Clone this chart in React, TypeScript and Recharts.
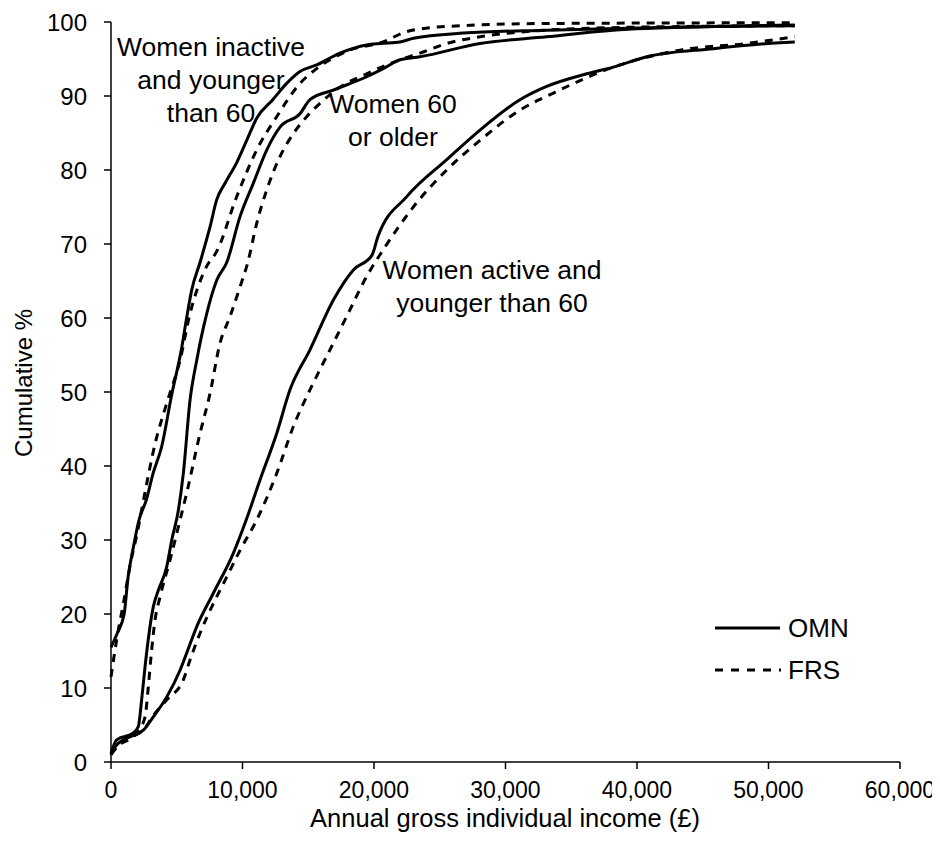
import { LineChart, Line, XAxis, YAxis, Label } from "recharts";

// cumulative % of women by annual gross individual income (£)
const inactiveOmn = [
  [0, 15.5], [500, 17.5], [1000, 20], [1300, 25], [1700, 29], [2100, 32.5], [2700, 35.5],
  [3200, 39], [3850, 42.6], [4600, 49.5], [5380, 56], [5750, 60], [6140, 63.8], [6770, 67.5],
  [7530, 72.3], [8040, 76], [8670, 78.2], [9560, 81], [10320, 84], [11080, 87], [12300, 89.5],
  [13360, 91.7], [14370, 93.3], [15640, 94.2], [17410, 95.8], [19440, 96.9], [20460, 97.1],
  [21980, 97.3], [23000, 97.8], [26800, 98.5], [33150, 98.9], [40000, 99.2], [46000, 99.4],
  [52000, 99.5],
];
const inactiveFrs = [
  [0, 11.5], [430, 16.5], [1000, 22], [1500, 27], [2000, 31], [2430, 35], [3350, 43],
  [4240, 48.5], [5250, 54.3], [6000, 60.5], [7280, 67], [8040, 69], [9560, 76.4], [11080, 82.7],
  [12600, 87.2], [14370, 91.7], [15640, 93.7], [18170, 96.2], [20700, 97.3], [22480, 98.7],
  [25550, 99.4], [33150, 99.8], [52000, 99.9],
];
const olderOmn = [
  [0, 1.2], [430, 3], [1670, 3.9], [2080, 4.8], [2330, 8.4], [2590, 12.9], [3220, 21],
  [3600, 23.2], [4240, 26.4], [4620, 30], [5120, 34], [5500, 39], [6010, 48.9], [6520, 54.3],
  [7280, 60.6], [8040, 65.1], [8800, 67.5], [9810, 73.7], [10820, 78.2], [11840, 82.7],
  [12850, 85.8], [14370, 87.6], [15130, 89.5], [16900, 90.8], [19440, 92.6], [20700, 93.7],
  [21980, 94.9], [23500, 95.3], [28060, 97.1], [33130, 98], [38170, 98.9], [45780, 99.4],
  [52000, 99.6],
];
const olderFrs = [
  [0, 1], [430, 2], [1950, 3.9], [2590, 6.1], [2840, 10.2], [3090, 15.1], [3350, 19.2],
  [3730, 22.3], [4490, 27.3], [5250, 32.7], [5750, 36.3], [6770, 44.4], [7530, 49.8],
  [8290, 56.6], [9050, 60.2], [9810, 64.2], [10400, 67.5], [11080, 72.8], [11840, 77.3],
  [12850, 81.8], [13860, 84.9], [14880, 87.2], [15890, 89], [17410, 91.2], [19440, 93],
  [21980, 94.9], [23500, 95.8], [25530, 97.1], [28060, 98], [33130, 98.9], [40000, 99.3],
  [52000, 99.5],
];
const activeOmn = [
  [0, 1], [430, 2.3], [1700, 3.6], [2460, 4.3], [3220, 6.1], [4240, 8.8], [5250, 12.4],
  [5750, 14.7], [6520, 18.3], [7780, 22.8], [9300, 28.2], [10320, 32.9], [11330, 38.1],
  [12600, 44.4], [13610, 50.3], [15130, 55.7], [16900, 62.4], [18430, 66.5], [19850, 68.5],
  [20300, 71], [22490, 76.4], [25530, 81.4], [28060, 85.4], [31100, 89.5], [33130, 91.3],
  [36170, 93], [38200, 93.9], [40740, 95.3], [45800, 96.4], [50870, 97.2], [52000, 97.3],
];
const activeFrs = [
  [0, 1], [430, 2], [1700, 3.5], [2460, 4.3], [3220, 6.3], [4240, 8.4], [5500, 11.1],
  [6010, 13.8], [6770, 17.4], [7780, 21.4], [8800, 25], [9810, 28.6], [11080, 32.7],
  [12600, 39], [13860, 45.3], [15380, 51.2], [16650, 55.7], [17920, 60.2], [19440, 65.6],
  [20840, 69.6], [22990, 75], [25530, 80], [28060, 84], [31100, 88.1], [33640, 90.4],
  [38200, 93.9], [43270, 96.2], [48330, 97.1], [52000, 98],
];

const xTicks = [0, 10000, 20000, 30000, 40000, 50000, 60000];
const yTicks = [0, 10, 20, 30, 40, 50, 60, 70, 80, 90, 100];

const toPoints = (arr: number[][]) => arr.map(([income, pct]) => ({ income, pct }));

const series = [
  { name: "inactiveOmn", data: inactiveOmn, dashed: false },
  { name: "inactiveFrs", data: inactiveFrs, dashed: true },
  { name: "olderOmn", data: olderOmn, dashed: false },
  { name: "olderFrs", data: olderFrs, dashed: true },
  { name: "activeOmn", data: activeOmn, dashed: false },
  { name: "activeFrs", data: activeFrs, dashed: true },
];

const font = "'Liberation Sans', Arial, sans-serif";

const legend = (
  <svg
    width={170}
    height={70}
    style={{ position: "absolute", left: 707, top: 604, overflow: "visible" }}
    fontFamily={font}
  >
    <line x1={0} y1={16} x2={65} y2={16} stroke="#000" strokeWidth={3} />
    <text x={73} y={16} dominantBaseline="central" fontSize={26}>OMN</text>
    <line x1={0} y1={58} x2={66} y2={58} stroke="#000" strokeWidth={3} strokeDasharray="8 8" />
    <text x={73} y={58} dominantBaseline="central" fontSize={26}>FRS</text>
  </svg>
);

const annot = (cx: number, top: number, lines: string[]) => (
  <div
    style={{
      position: "absolute", left: cx - 150, top, width: 300, textAlign: "center",
      fontFamily: font, fontSize: 26.5, lineHeight: "33px", color: "#000",
    }}
  >
    {lines.map((l) => <div key={l}>{l}</div>)}
  </div>
);

export default function App() {
  return (
    <div style={{ position: "relative", width: 932, height: 836 }}>
      <LineChart
        width={932}
        height={836}
        margin={{ top: 14, right: 40, left: 0, bottom: 0 }}
        style={{ fontFamily: font, overflow: "visible" }}
      >
        <XAxis
          type="number"
          dataKey="income"
          domain={[0, 60000]}
          ticks={xTicks}
          tickFormatter={(v: number) => v.toLocaleString("en-GB")}
          height={82}
          tickSize={7}
          tickMargin={13}
          stroke="#000"
          strokeWidth={1.5}
          tick={{ fill: "#000", fontSize: 23 }}
          allowDuplicatedCategory={false}
        >
          <Label
            content={() => (
              <text x={497} y={810} textAnchor="middle" dominantBaseline="central" fontSize={25.5} fill="#000">
                Annual gross individual income (£)
              </text>
            )}
          />
        </XAxis>
        <YAxis
          type="number"
          dataKey="pct"
          domain={[0, 100]}
          ticks={yTicks}
          width={103}
          tickSize={7}
          tickMargin={17}
          stroke="#000"
          strokeWidth={1.5}
          tick={{ fill: "#000", fontSize: 24 }}
        >
          <Label
            content={() => (
              <text
                x={15}
                y={375}
                transform="rotate(-90, 15, 375)"
                textAnchor="middle"
                dominantBaseline="central"
                fontSize={24}
                fill="#000"
              >
                Cumulative %
              </text>
            )}
          />
        </YAxis>
        {series.map((s) => (
          <Line
            key={s.name}
            data={toPoints(s.data)}
            dataKey="pct"
            type="monotone"
            stroke="#000"
            strokeWidth={3}
            strokeDasharray={s.dashed ? "8 7" : undefined}
            dot={false}
            activeDot={false}
            isAnimationActive={false}
            legendType="none"
          />
        ))}
      </LineChart>
      {legend}
      {annot(203, 23, ["Women inactive", "and younger", "than 60"])}
      {annot(385, 80, ["Women 60", "or older"])}
      {annot(484, 246, ["Women active and", "younger than 60"])}
    </div>
  );
}
